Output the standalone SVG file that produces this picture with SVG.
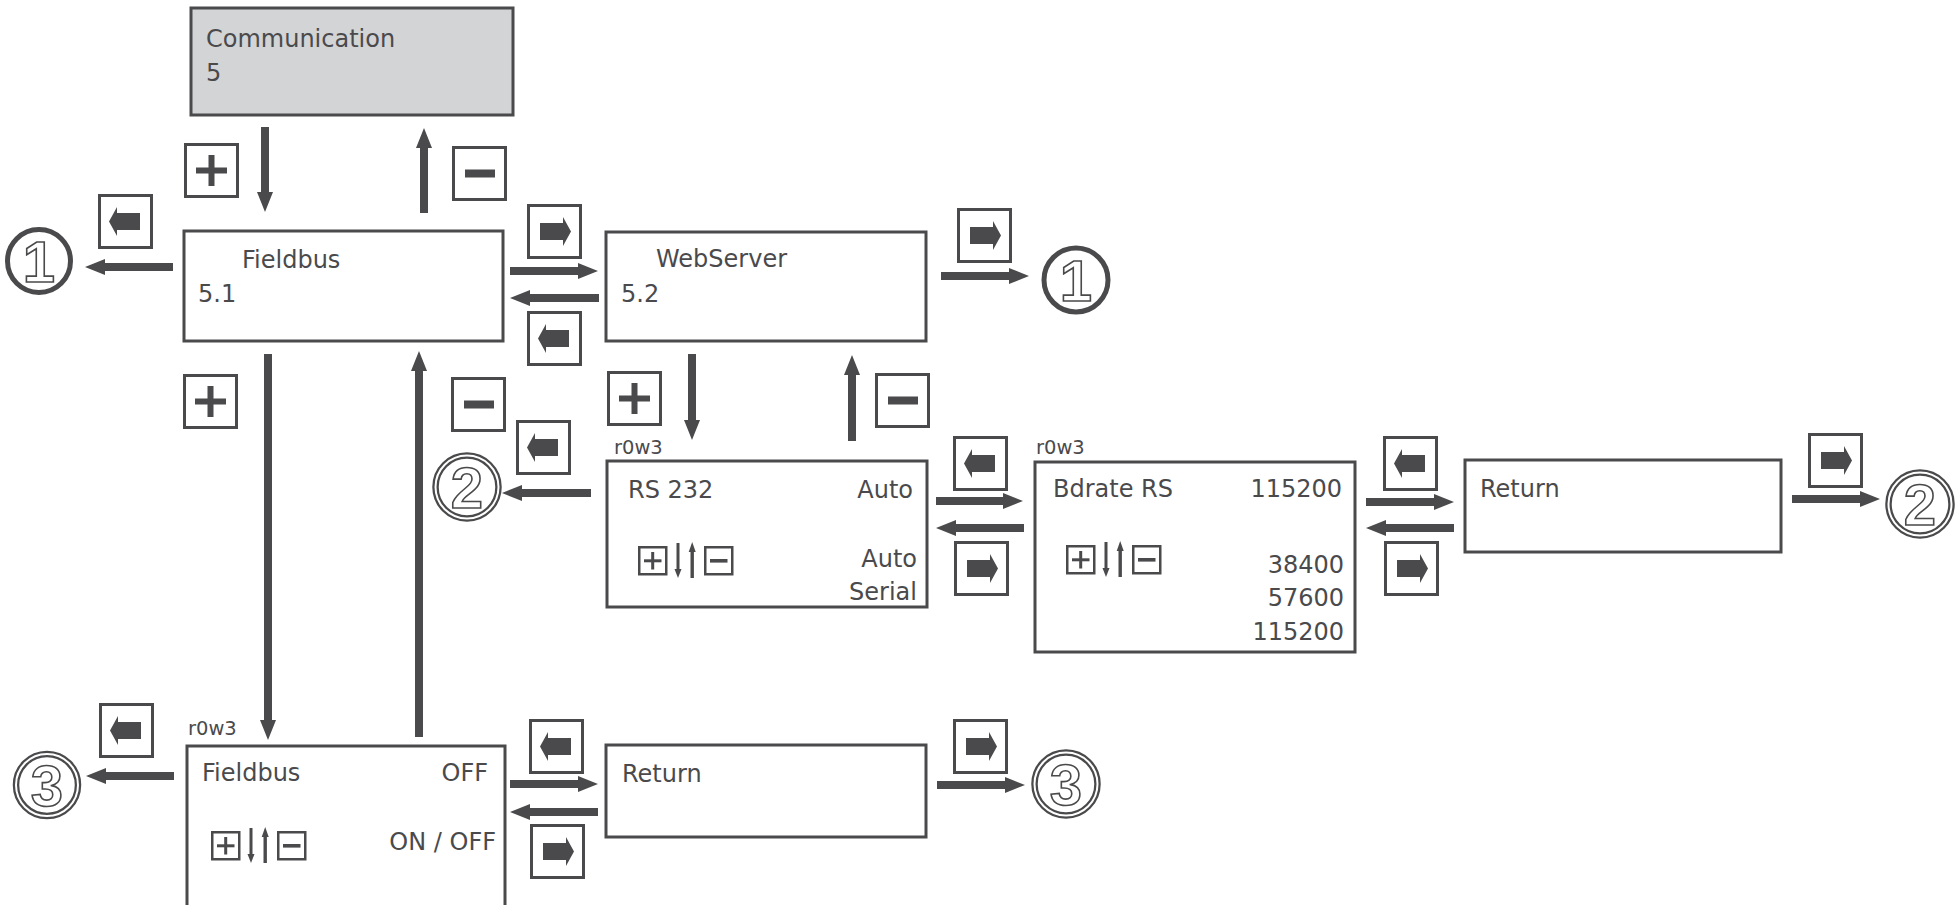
<svg xmlns="http://www.w3.org/2000/svg" xmlns:xlink="http://www.w3.org/1999/xlink" width="1960" height="905" viewBox="0 0 1960 905">
<style>
.bx{fill:#fff;stroke:#4a4a4c;stroke-width:3}
.gr{fill:#d3d4d6;stroke:#4a4a4c;stroke-width:3}
.t{font-family:"DejaVu Sans",sans-serif;font-size:24px;fill:#4a4a4c}
.s{font-family:"DejaVu Sans",sans-serif;font-size:19.5px;fill:#4a4a4c}
.e{text-anchor:end}
.c{fill:none;stroke:#4a4a4c;stroke-width:8}
.ink{fill:#4a4a4c}
.kb{fill:#fff;stroke:#4a4a4c;stroke-width:3}
.mb{fill:#fff;stroke:#4a4a4c;stroke-width:2.5}
.r1{fill:#fff;stroke:#4a4a4c;stroke-width:5}
.r2a{fill:#fff;stroke:#4a4a4c;stroke-width:6.5}
.r2b{fill:none;stroke:#fff;stroke-width:2}
.num{font-family:"Liberation Sans",sans-serif;font-weight:bold;font-size:58px;fill:#fff;stroke:#4a4a4c;stroke-width:1.6;text-anchor:middle}
</style>
<defs>
<marker id="ah" markerUnits="userSpaceOnUse" markerWidth="20" markerHeight="16" refX="1" refY="8" orient="auto" overflow="visible">
<path d="M0,0 L20,8 L0,16 Z" fill="#4a4a4c"/>
</marker>
<g id="kPlus"><rect class="kb" x="1.5" y="1.5" width="52" height="52"/><rect class="ink" x="12" y="24.5" width="31" height="6"/><rect class="ink" x="24.5" y="12" width="6" height="31"/></g>
<g id="kMinus"><rect class="kb" x="1.5" y="1.5" width="52" height="52"/><rect class="ink" x="13" y="23.5" width="30" height="8"/></g>
<g id="kRight"><rect class="kb" x="1.5" y="1.5" width="52" height="52"/><path class="ink" d="M13,19 H36 V13 L44,27.5 L36,42 V36 H13 Z"/></g>
<g id="kLeft"><rect class="kb" x="1.5" y="1.5" width="52" height="52"/><path class="ink" d="M42,19 H19 V13 L11,27.5 L19,42 V36 H42 Z"/></g>
<g id="mini">
<rect class="mb" x="1.25" y="6.25" width="27" height="27"/>
<rect class="ink" x="6" y="18.3" width="17.5" height="3"/><rect class="ink" x="13.2" y="11" width="3" height="17.5"/>
<rect class="ink" x="38.5" y="2" width="3" height="27"/><path class="ink" d="M36.5,28 L43.5,28 L40,37 Z"/>
<rect class="ink" x="52.5" y="10" width="3.4" height="27"/><path class="ink" d="M50.7,11 L57.7,11 L54.2,1 Z"/>
<rect class="mb" x="67.25" y="6.25" width="27" height="27"/>
<rect class="ink" x="72" y="18" width="17.5" height="3.6"/>
</g>
</defs>

<g id="connectors">
<path class="c" d="M265,127 V193" marker-end="url(#ah)"/>
<path class="c" d="M424,213 V147" marker-end="url(#ah)"/>
<path class="c" d="M173,267 H104" marker-end="url(#ah)"/>
<path class="c" d="M510,271 H579" marker-end="url(#ah)"/>
<path class="c" d="M599,298 H529" marker-end="url(#ah)"/>
<path class="c" d="M941,276 H1010" marker-end="url(#ah)"/>
<path class="c" d="M692,354 V421" marker-end="url(#ah)"/>
<path class="c" d="M852,441 V374" marker-end="url(#ah)"/>
<path class="c" d="M591,493 H521" marker-end="url(#ah)"/>
<path class="c" d="M936,501 H1004" marker-end="url(#ah)"/>
<path class="c" d="M1024,528 H955" marker-end="url(#ah)"/>
<path class="c" d="M1366,502 H1435" marker-end="url(#ah)"/>
<path class="c" d="M1454,528 H1385" marker-end="url(#ah)"/>
<path class="c" d="M1792,499 H1861" marker-end="url(#ah)"/>
<path class="c" d="M268,354 V721" marker-end="url(#ah)"/>
<path class="c" d="M419,737 V370" marker-end="url(#ah)"/>
<path class="c" d="M174,776 H105" marker-end="url(#ah)"/>
<path class="c" d="M510,784 H579" marker-end="url(#ah)"/>
<path class="c" d="M598,812 H529" marker-end="url(#ah)"/>
<path class="c" d="M937,785 H1006" marker-end="url(#ah)"/>
</g>

<g id="keys">
<use xlink:href="#kPlus" x="184" y="143"/>
<use xlink:href="#kMinus" x="452" y="146"/>
<use xlink:href="#kLeft" x="98" y="194"/>
<use xlink:href="#kRight" x="527" y="204"/>
<use xlink:href="#kLeft" x="527" y="311"/>
<use xlink:href="#kRight" x="957" y="208"/>
<use xlink:href="#kPlus" x="183" y="374"/>
<use xlink:href="#kMinus" x="451" y="377"/>
<use xlink:href="#kLeft" x="516" y="420"/>
<use xlink:href="#kPlus" x="607" y="371"/>
<use xlink:href="#kMinus" x="875" y="373"/>
<use xlink:href="#kLeft" x="953" y="436"/>
<use xlink:href="#kRight" x="954" y="541"/>
<use xlink:href="#kLeft" x="1383" y="436"/>
<use xlink:href="#kRight" x="1384" y="541"/>
<use xlink:href="#kRight" x="1808" y="433"/>
<use xlink:href="#kLeft" x="99" y="703"/>
<use xlink:href="#kLeft" x="529" y="719"/>
<use xlink:href="#kRight" x="530" y="824"/>
<use xlink:href="#kRight" x="953" y="719"/>
</g>

<g id="n-communication">
<rect class="gr" x="191" y="8" width="322" height="107"/>
<text class="t" x="206" y="47">Communication</text>
<text class="t" x="206" y="81">5</text>
</g>
<g id="n-fieldbus">
<rect class="bx" x="184" y="231" width="319" height="110"/>
<text class="t" x="242" y="268">Fieldbus</text>
<text class="t" x="198" y="302">5.1</text>
</g>
<g id="n-webserver">
<rect class="bx" x="606" y="232" width="320" height="109"/>
<text class="t" x="656" y="267">WebServer</text>
<text class="t" x="621" y="302">5.2</text>
</g>
<g id="n-rs232">
<text class="s" x="614" y="454">r0w3</text>
<rect class="bx" x="607" y="461" width="320" height="146"/>
<text class="t" x="628" y="498">RS 232</text>
<text class="t e" x="913" y="498">Auto</text>
<text class="t e" x="917" y="567">Auto</text>
<text class="t e" x="917" y="600">Serial</text>
<use xlink:href="#mini" x="638" y="541"/>
</g>
<g id="n-bdrate">
<text class="s" x="1036" y="454">r0w3</text>
<rect class="bx" x="1035" y="462" width="320" height="190"/>
<text class="t" x="1053" y="497">Bdrate RS</text>
<text class="t e" x="1342" y="497">115200</text>
<text class="t e" x="1344" y="573">38400</text>
<text class="t e" x="1344" y="606">57600</text>
<text class="t e" x="1344" y="640">115200</text>
<use xlink:href="#mini" x="1066" y="540"/>
</g>
<g id="n-return1">
<rect class="bx" x="1465" y="460" width="316" height="92"/>
<text class="t" x="1480" y="497">Return</text>
</g>
<g id="n-fieldbus-onoff">
<text class="s" x="188" y="735">r0w3</text>
<rect class="bx" x="187" y="746" width="318" height="200"/>
<text class="t" x="202" y="781">Fieldbus</text>
<text class="t e" x="488" y="781">OFF</text>
<text class="t e" x="496" y="850">ON / OFF</text>
<use xlink:href="#mini" x="211" y="826"/>
</g>
<g id="n-return2">
<rect class="bx" x="606" y="745" width="320" height="92"/>
<text class="t" x="622" y="782">Return</text>
</g>

<g id="m1-left"><circle class="r1" cx="39" cy="261" r="31.5"/><text class="num" x="39" y="282">1</text></g>
<g id="m1-right"><circle class="r1" cx="1076" cy="280" r="32"/><text class="num" x="1076" y="301">1</text></g>
<g id="m2-left"><circle class="r2a" cx="467" cy="487" r="31.5"/><circle class="r2b" cx="467" cy="487" r="31.5"/><text class="num" x="467" y="508">2</text></g>
<g id="m2-right"><circle class="r2a" cx="1920" cy="504" r="31.5"/><circle class="r2b" cx="1920" cy="504" r="31.5"/><text class="num" x="1920" y="525">2</text></g>
<g id="m3-left"><circle class="r2a" cx="47" cy="785" r="31"/><circle class="r2b" cx="47" cy="785" r="31"/><text class="num" x="47" y="806">3</text></g>
<g id="m3-right"><circle class="r2a" cx="1066" cy="784" r="31.5"/><circle class="r2b" cx="1066" cy="784" r="31.5"/><text class="num" x="1066" y="805">3</text></g>
</svg>
